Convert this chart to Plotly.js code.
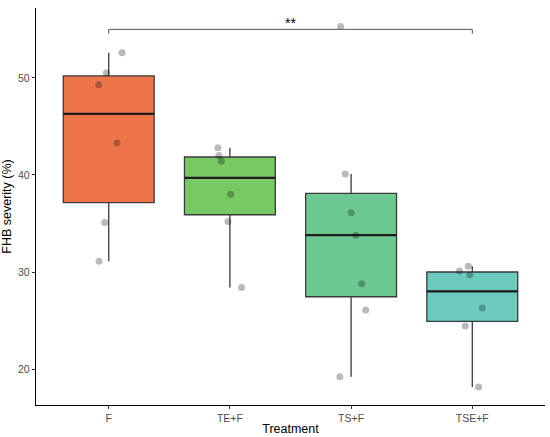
<!DOCTYPE html>
<html>
<head>
<meta charset="utf-8">
<script src="https://cdn.plot.ly/plotly-3.0.1.min.js"></script>
<style>html,body{margin:0;padding:0;background:#fff}#chart{width:550px;height:437px}</style>
</head>
<body>
<div id="chart"></div>
<script>
// ---- data ----
const categories = ["F", "TE+F", "TS+F", "TSE+F"];
const colors = ["#EE754A", "#77C963", "#6CC991", "#6CCBBE"];
const valuesF    = [52.6, 50.5, 49.3, 43.3, 35.1, 31.1];
const valuesTEF  = [42.8, 42.0, 41.4, 38.0, 35.2, 28.4];
const valuesTSF  = [55.3, 40.1, 36.1, 33.8, 28.8, 26.1, 19.2];
const valuesTSEF = [30.6, 30.1, 29.7, 26.3, 24.45, 18.15];
const jitterF    = [0.11, -0.02, -0.083, 0.068, -0.033, -0.08];
const jitterTEF  = [-0.099, -0.091, -0.071, 0.006, -0.016, 0.096];
const jitterTSF  = [-0.087, -0.049, 0.0, 0.039, 0.088, 0.121, -0.093];
const jitterTSEF = [-0.033, -0.105, -0.02, 0.082, -0.058, 0.052];
const yTicks = [20, 30, 40, 50];
const sigLabel = "**";

const groups = [valuesF, valuesTEF, valuesTSF, valuesTSEF];
const jitters = [jitterF, jitterTEF, jitterTSF, jitterTSEF];

// R type-7 quantile
function quantile(arr, p) {
  const s = arr.slice().sort((a, b) => a - b);
  const h = (s.length - 1) * p;
  const lo = Math.floor(h), hi = Math.ceil(h);
  return s[lo] + (h - lo) * (s[hi] - s[lo]);
}
function stats(arr) {
  const q1 = quantile(arr, 0.25), med = quantile(arr, 0.5), q3 = quantile(arr, 0.75);
  const iqr = q3 - q1;
  const inside = arr.filter(v => v >= q1 - 1.5 * iqr && v <= q3 + 1.5 * iqr);
  return {q1, med, q3, lo: Math.min(...inside), hi: Math.max(...inside)};
}

const traces = [];
const boxW = 0.75;
groups.forEach((g, i) => {
  const s = stats(g);
  traces.push({
    type: "box", x: [i], q1: [s.q1], median: [s.med], q3: [s.q3],
    lowerfence: [s.lo], upperfence: [s.hi],
    width: boxW, whiskerwidth: 0, boxpoints: false,
    fillcolor: colors[i], line: {color: "#3a3a3a", width: 1.3},
    hoverinfo: "skip", showlegend: false
  });
  traces.push({
    type: "scatter", mode: "lines",
    x: [i - boxW / 2, i + boxW / 2], y: [s.med, s.med],
    line: {color: "#1e1e1e", width: 2.3}, hoverinfo: "skip", showlegend: false
  });
});
groups.forEach((g, i) => {
  traces.push({
    type: "scatter", mode: "markers",
    x: g.map((v, k) => i + jitters[i][k]), y: g,
    marker: {size: 7, color: "rgba(0,0,0,0.27)", line: {width: 0}},
    hoverinfo: "skip", showlegend: false
  });
});
// significance bracket between F and TSE+F
const bracketY = 55.0, bracketDrop = 0.45;
traces.push({
  type: "scatter", mode: "lines",
  x: [0, 0, 3, 3], y: [bracketY - bracketDrop, bracketY, bracketY, bracketY - bracketDrop],
  line: {color: "#555", width: 1}, hoverinfo: "skip", showlegend: false
});

const layout = {
  width: 550, height: 437,
  margin: {l: 36, r: 5, t: 8, b: 32},
  paper_bgcolor: "#fff", plot_bgcolor: "#fff",
  font: {family: "Liberation Sans, Arial, sans-serif", color: "#000"},
  showlegend: false,
  xaxis: {
    range: [-0.6, 3.6], tickvals: [0, 1, 2, 3], ticktext: categories,
    showgrid: false, zeroline: false, showline: true, linecolor: "#000", linewidth: 1.2,
    ticks: "outside", ticklen: 3, tickcolor: "#333", tickwidth: 1,
    tickfont: {size: 10.5, color: "#4d4d4d"},
    title: {text: "Treatment", font: {size: 12.5, color: "#000"}, standoff: 1}
  },
  yaxis: {
    range: [16.3, 57.2], tickvals: yTicks,
    showgrid: false, zeroline: false, showline: true, linecolor: "#000", linewidth: 1.2,
    ticks: "outside", ticklen: 3, tickcolor: "#333", tickwidth: 1,
    tickfont: {size: 10.5, color: "#4d4d4d"},
    title: {text: "FHB severity (%)", font: {size: 12.5, color: "#000"}, standoff: 4}
  },
  annotations: [{
    x: 1.5, y: bracketY, xref: "x", yref: "y", text: sigLabel, showarrow: false,
    yanchor: "bottom", yshift: -4, font: {size: 14, color: "#000"}
  }]
};
Plotly.newPlot("chart", traces, layout, {displayModeBar: false, staticPlot: true});
</script>
</body>
</html>
